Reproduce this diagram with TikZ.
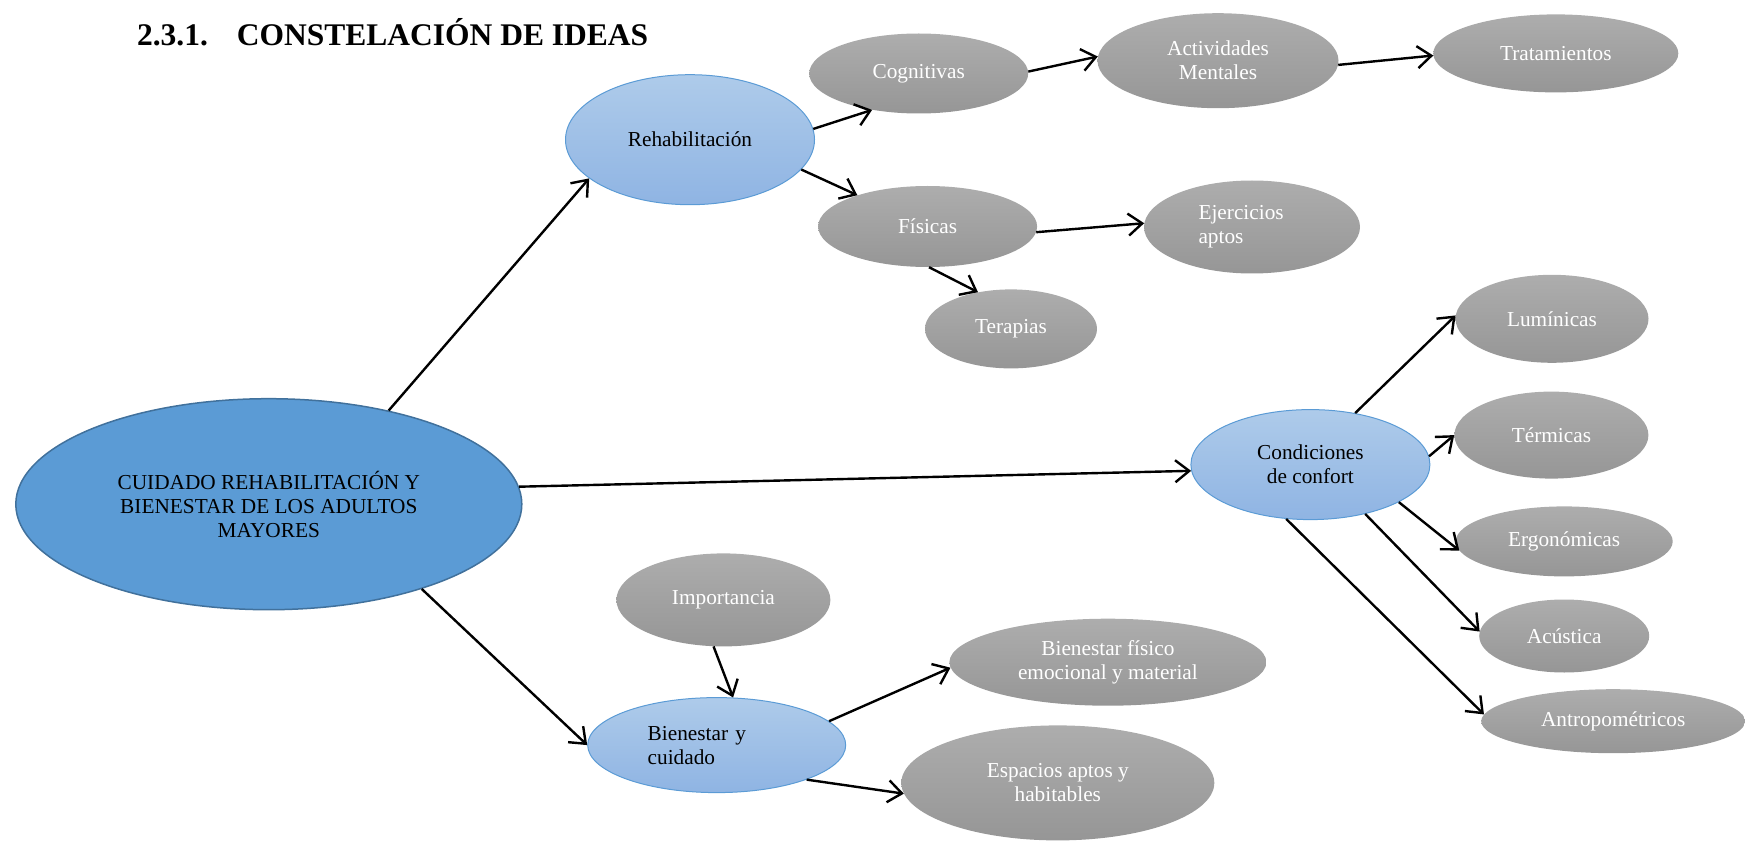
\documentclass[tikz,border=0pt]{standalone}
\usepackage{fontspec}
\setmainfont{Liberation Serif}
\usepackage{tikz}
\usetikzlibrary{shapes.geometric,arrows.meta}

\definecolor{mainblue}{HTML}{5B9BD5}
\definecolor{mainedge}{HTML}{41719C}
\definecolor{lightblue}{HTML}{AECBEA}
\definecolor{midblue}{HTML}{8FB4E3}
\definecolor{greytop}{HTML}{ADADAD}
\definecolor{greybot}{HTML}{969696}

\begin{document}
\begin{tikzpicture}[x=1pt,y=-1pt,
  every node/.style={font=\fontsize{21.3}{24}\selectfont},
  dims/.style 2 args={minimum width=#1pt,minimum height=#2pt},
  core/.style={ellipse,draw=mainedge,line width=1.5pt,fill=mainblue,inner sep=0pt,align=center},
  topic/.style={ellipse,draw=mainblue,line width=1pt,top color=lightblue,bottom color=midblue,inner sep=0pt,align=center},
  idea/.style={ellipse,draw=none,top color=greytop,bottom color=greybot,text=white,inner sep=0pt,align=center},
  link/.style={line width=2.4pt,-{Straight Barb[length=14pt,width=22pt]}}]

\useasboundingbox (0,0) rectangle (1745,842);

\node (title) [anchor=base west,font=\fontsize{31.5}{36}\selectfont\bfseries] at (133.5,45.6) {2.3.1.\hspace{29pt}CONSTELACIÓN DE IDEAS};

\node (main) [core,dims={506}{211}] at (268.8,504.2) {CUIDADO REHABILITACIÓN Y\\BIENESTAR DE LOS ADULTOS\\MAYORES};

\node (rehab) [topic,dims={249}{130}] at (690,139.7) {Rehabilitación};
\node (cond) [topic,dims={239}{110}] at (1310.4,464.6) {Condiciones\\de confort};
\node (bien) [topic,dims={258}{95},text width=138pt,align=left] at (716.7,745.1) {Bienestar y\\cuidado};

\node (cog) [idea,dims={219}{80}] at (918.7,73.5) {Cognitivas};
\node (act) [idea,dims={241}{95}] at (1218,60.7) {Actividades\\Mentales};
\node (trat) [idea,dims={245}{78}] at (1555.8,53.4) {Tratamientos};
\node (fis) [idea,dims={219}{81}] at (927.6,226.5) {Físicas};
\node (ejer) [idea,dims={216}{93},text width=107pt,align=left] at (1252,227) {Ejercicios\\aptos};
\node (ter) [idea,dims={172}{79}] at (1011,328.9) {Terapias};

\node (lum) [idea,dims={193}{88}] at (1552,318.8) {Lumínicas};
\node (term) [idea,dims={194}{87}] at (1551.4,435.1) {Térmicas};
\node (ergo) [idea,dims={217}{70}] at (1564.2,541.4) {Ergonómicas};
\node (acus) [idea,dims={170}{73}] at (1564.2,636) {Acústica};
\node (antro) [idea,dims={264}{64}] at (1613.2,721.2) {Antropométricos};

\node (imp) [idea,dims={214}{93}] at (723.4,599.9) {Importancia};
\node (bfis) [idea,dims={317}{87}] at (1107.9,662.2) {Bienestar físico\\emocional y material};
\node (esp) [idea,dims={313}{115}] at (1057.8,782.9) {Espacios aptos y\\habitables};

\foreach \from/\to in {main.38/rehab.201, main.4/cond.183, main.331/bien.180,
    rehab.5/cog.218, rehab.345/fis.156, cog.1/act.178, act.358/trat.181,
    fis.357/ejer.178, fis.272/ter.132,
    cond.49/lum.178, cond.4/term.180, cond.337/ergo.185, cond.318/acus.177, cond.246/antro.177,
    imp.258/bien.71, bien.12/bfis.182, bien.339/esp.184}{
    \draw[link] (\from) -- (\to); % arrows between ideas
}

\end{tikzpicture}
\end{document}
